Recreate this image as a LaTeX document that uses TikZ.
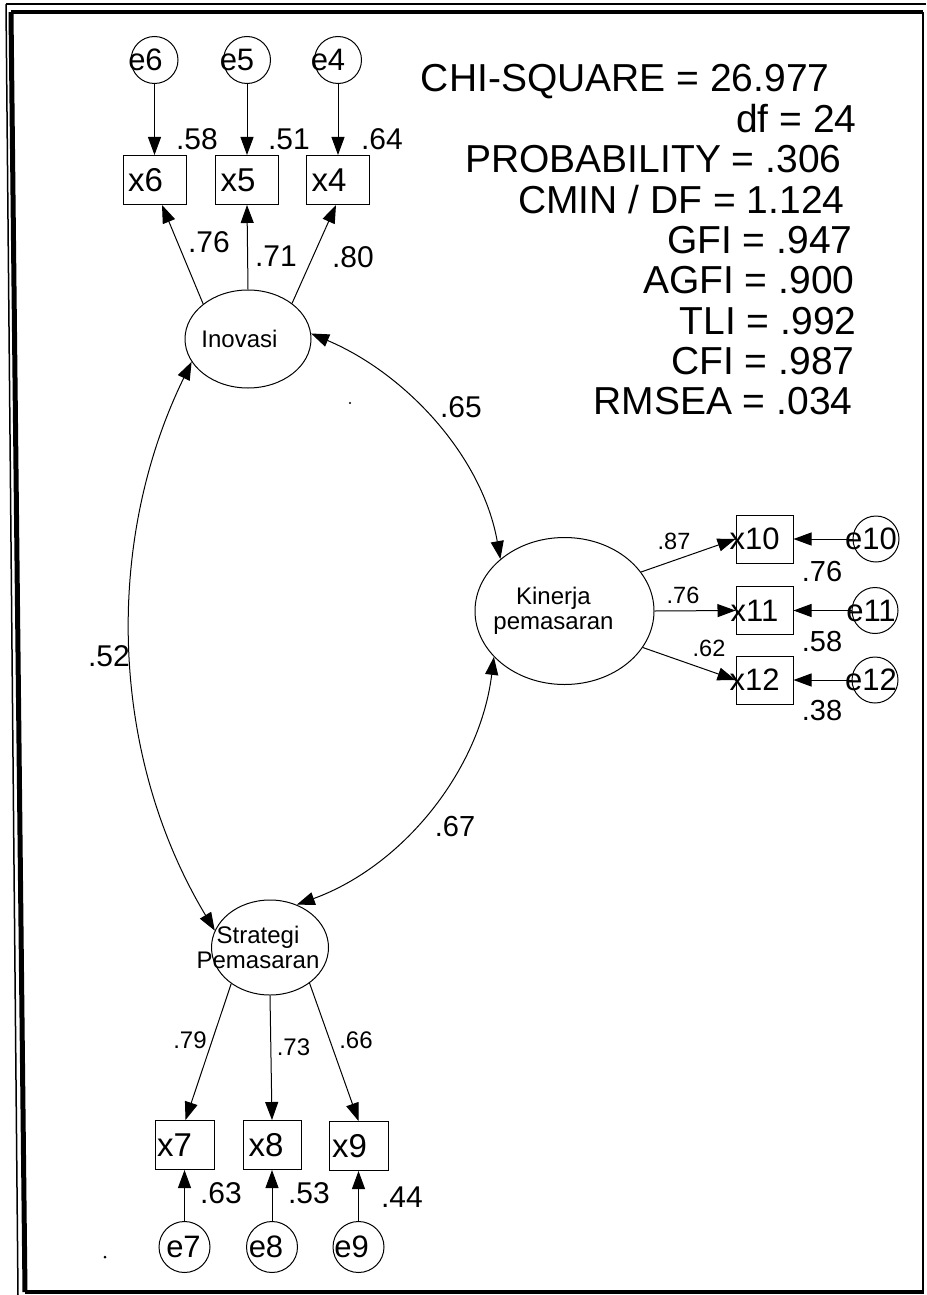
\documentclass[tikz,border=0pt]{standalone}
\usepackage{fontspec}
\setmainfont{Liberation Sans}
\usetikzlibrary{arrows.meta,shapes.geometric}
\begin{document}
\begin{tikzpicture}[x=1pt,y=1pt,line width=1pt,
  >={Triangle[length=18pt,width=13pt]},
  box/.style={draw,rectangle,minimum height=49pt,inner sep=0pt},
  err/.style={draw,circle,inner sep=0pt},
  lat/.style={draw,ellipse,inner sep=0pt},
  fa/.style={font=\fontsize{30}{36}\selectfont},
  fb/.style={font=\fontsize{23.5}{27}\selectfont},
  ft/.style={font=\fontsize{31}{36}\selectfont},
  fx/.style={font=\fontsize{33}{38}\selectfont},
  fl/.style={font=\fontsize{24}{25}\selectfont},
  num/.style={inner sep=0pt},
  stat/.style={anchor=base east,inner sep=0pt,font=\fontsize{39}{44}\selectfont}]
\useasboundingbox (0,0) rectangle (926,-1295);
% frame
\draw[line width=1.5pt] (6,-4) -- (926,-4);
\draw[line width=1.5pt] (6,-4) -- (18,-1295);
\draw[line width=4.5pt] (11,-12) -- (923,-12);
\draw[line width=5pt] (11,-12) -- (25,-1292);
\draw[line width=2.5pt] (923,-12) -- (923,-1292);
\draw[line width=3.5pt] (25,-1292) -- (924,-1292);
\fill (105,-1257) circle (1.5pt);
\fill (350,-403) circle (1.2pt);

% latent variables
\node[lat,minimum width=126pt,minimum height=98pt,
  label={[fl,xshift=-8.5pt]center:Inovasi}] (inov) at (248,-339) {};
\node[lat,minimum width=179pt,minimum height=147pt,
  label={[fl,xshift=-11pt,align=center]center:Kinerja\\pemasaran}] (kin) at (564.5,-611) {};
\node[lat,minimum width=117pt,minimum height=95pt,
  label={[fl,xshift=-12pt,align=center]center:Strategi\\Pemasaran}] (strat) at (270,-947.5) {};

% top indicators
\node[box,minimum width=63pt,label={[fx,xshift=-9pt]center:x6}] (x6) at (154.5,-180) {};
\node[box,minimum width=63pt,label={[fx,xshift=-9pt]center:x5}] (x5) at (247,-180) {};
\node[box,minimum width=63pt,label={[fx,xshift=-9pt]center:x4}] (x4) at (338,-180) {};
\node[err,minimum size=47pt,label={[ft,xshift=-9pt]center:e6}] (e6) at (154.5,-60) {};
\node[err,minimum size=47pt,label={[ft,xshift=-10pt]center:e5}] (e5) at (247,-60) {};
\node[err,minimum size=47pt,label={[ft,xshift=-10pt]center:e4}] (e4) at (338,-60) {};

% right indicators
\node[box,minimum width=57pt,minimum height=48pt,label={[ft,xshift=-10pt]center:x10}] (x10) at (764.5,-539) {};
\node[box,minimum width=57pt,minimum height=48pt,label={[ft,xshift=-10pt]center:x11}] (x11) at (764.5,-610.5) {};
\node[box,minimum width=57pt,minimum height=48pt,label={[ft,xshift=-10pt]center:x12}] (x12) at (764.5,-680) {};
\node[err,minimum size=46pt,label={[ft,xshift=-5pt]center:e10}] (e10) at (876,-539) {};
\node[err,minimum size=46pt,label={[ft,xshift=-4pt]center:e11}] (e11) at (875,-610.5) {};
\node[err,minimum size=46pt,label={[ft,xshift=-4pt]center:e12}] (e12) at (875,-680) {};

% bottom indicators
\node[box,minimum width=59pt,label={[fx,xshift=-10pt]center:x7}] (x7) at (184.5,-1145) {};
\node[box,minimum width=58pt,label={[fx,xshift=-6pt]center:x8}] (x8) at (272,-1145) {};
\node[box,minimum width=59pt,label={[fx,xshift=-9pt]center:x9}] (x9) at (358.5,-1146) {};
\node[err,minimum size=51pt,label={[ft,xshift=-1pt]center:e7}] (e7) at (184.5,-1247) {};
\node[err,minimum size=51pt,label={[ft,xshift=-6pt]center:e8}] (e8) at (272,-1247) {};
\node[err,minimum size=51pt,label={[ft,xshift=-7pt]center:e9}] (e9) at (358.5,-1247) {};

% error arrows
\draw[->] (e6) -- (x6);
\draw[->] (e5) -- (x5);
\draw[->] (e4) -- (x4);
\draw[->] (e10) -- (x10);
\draw[->] (e11) -- (x11);
\draw[->] (e12) -- (x12);
\draw[->] (e7) -- (x7);
\draw[->] (e8) -- (x8);
\draw[->] (e9) -- (x9);

% loadings
\draw[->] (inov.142) -- ([xshift=7.5pt]x6.south);
\draw[->] (inov.90) -- (x5.south);
\draw[->] (inov.39) -- ([xshift=-2pt]x4.south);
\draw[->] (kin.27) -- (x10.west);
\draw[->] (kin.east) -- (x11.west);
\draw[->] (kin.-25) -- (x12.west);
\draw[->] (strat.223) -- ([xshift=1pt]x7.north);
\draw[->] (strat.south) -- (x8.north);
\draw[->] (strat.-42) -- (x9.north);

% covariances
\draw[<->] (inov.202) to[out=244,in=121,looseness=0.91] (strat.163);
\draw[<->] (inov.5) to[out=-23,in=100,looseness=0.9] (kin.141);
\draw[<->] (kin.213) to[out=-97,in=20,looseness=0.92] (strat.58);

% numbers
\node[num,fa] (r6) at (197,-139) {.58};
\node[num,fa] (r5) at (289,-139) {.51};
\node[num,fa] (r4) at (382,-139) {.64};
\node[num,fa] (l6) at (209,-242) {.76};
\node[num,fa] (l5) at (276,-256) {.71};
\node[num,fa] (l4) at (353,-257) {.80};
\node[num,fa] (c1) at (461,-407) {.65};
\node[num,fa] (c2) at (109,-656) {.52};
\node[num,font=\fontsize{29}{34}\selectfont] (c3) at (455,-827) {.67};
\node[num,fb] (l10) at (674,-541) {.87};
\node[num,fb] (l11) at (683,-595) {.76};
\node[num,fb] (l12) at (709,-648) {.62};
\node[num,font=\fontsize{29}{34}\selectfont] (r10) at (822,-572) {.76};
\node[num,font=\fontsize{29}{34}\selectfont] (r11) at (822,-642) {.58};
\node[num,font=\fontsize{29}{34}\selectfont] (r12) at (822,-711) {.38};
\node[num,fl] (l7) at (190,-1040) {.79};
\node[num,fl] (l8) at (293.5,-1047) {.73};
\node[num,fl] (l9) at (356,-1040) {.66};
\node[num,fa] (r7) at (221,-1193) {.63};
\node[num,fa] (r8) at (309,-1193) {.53};
\node[num,fa] (r9) at (402,-1197) {.44};

% fit statistics
\node[stat] (s1) at (830,-92) {CHI-SQUARE = 26.977};
\node[stat] (s2) at (857,-132) {df = 24};
\node[stat] (s3) at (842,-172) {PROBABILITY = .306};
\node[stat] (s4) at (845,-213) {CMIN / DF = 1.124};
\node[stat] (s5) at (853,-253) {GFI = .947};
\node[stat] (s6) at (855,-293) {AGFI = .900};
\node[stat] (s7) at (857,-334) {TLI = .992};
\node[stat] (s8) at (855,-374) {CFI = .987};
\node[stat] (s9) at (853,-414) {RMSEA = .034};
\end{tikzpicture}
\end{document}
